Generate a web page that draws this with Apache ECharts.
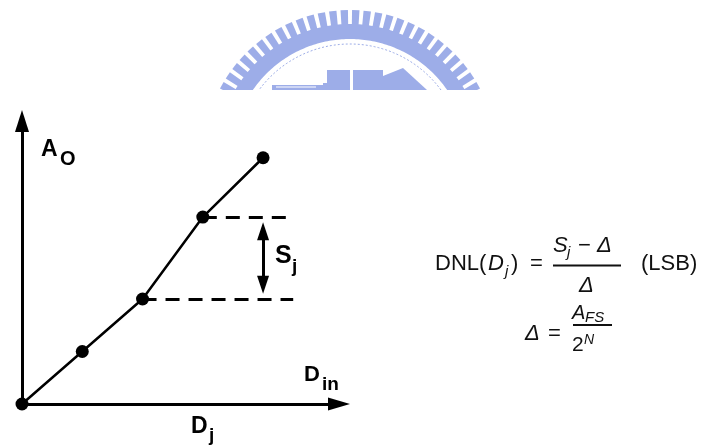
<!DOCTYPE html>
<html>
<head>
<meta charset="utf-8">
<title>DNL definition</title>
<script src="https://cdn.jsdelivr.net/npm/echarts@6.0.0/dist/echarts.min.js"></script>
<style>
  html, body { margin: 0; padding: 0; background: #ffffff; }
  #chart { width: 708px; height: 447px; }
</style>
</head>
<body>
<div id="chart"></div>
<script>
// DAC transfer characteristic: analog output A_o against input code D_in
const codes = [0, 1, 2, 3, 4];
const outputs = [0, 1.0, 2.0, 3.56, 4.69];
// the step S_j lies between these two codes
const stepLow = 2;
const stepHigh = 3;
// how far the dashed guide lines run to the right (in code units)
const guideEnds = [4.45, 4.5];

const INK = '#000000';
const MARK = '#9dade8';
const SANS = '"Liberation Sans", Arial, Helvetica, sans-serif';

const chart = echarts.init(document.getElementById('chart'), null, { renderer: 'canvas' });

// ---- badge drawn faintly behind the top of the page ----
const cx = 350, cy = 157, clipY = 90;
function clipBelow(poly) {
  // keep the part of a polygon that lies above the horizontal line y = clipY
  const out = [];
  for (let i = 0; i < poly.length; i++) {
    const a = poly[i], b = poly[(i + 1) % poly.length];
    const ina = a[1] <= clipY, inb = b[1] <= clipY;
    if (ina) out.push(a);
    if (ina !== inb) {
      const t = (clipY - a[1]) / (b[1] - a[1]);
      out.push([a[0] + t * (b[0] - a[0]), clipY]);
    }
  }
  return out;
}
function pt(r, deg) {
  const t = deg * Math.PI / 180;
  return [cx + r * Math.cos(t), cy - r * Math.sin(t)];
}
const badge = [];
// teeth around the rim
for (let i = 0; i < 80; i++) {
  const a = i * 4.5 + 2.25;
  if (a > 180) break;
  const hw = 1.45;
  const poly = clipBelow([pt(131, a - hw), pt(147, a - hw), pt(147, a + hw), pt(131, a + hw)]);
  if (poly.length > 2) badge.push({ type: 'polygon', shape: { points: poly }, style: { fill: MARK }, silent: true });
}
// solid band under the teeth
{
  const ring = [];
  for (let a = 0; a <= 180; a += 1) ring.push(pt(133, a));
  for (let a = 180; a >= 0; a -= 1) ring.push(pt(118, a));
  const poly = clipBelow(ring);
  badge.push({ type: 'polygon', shape: { points: poly }, style: { fill: MARK }, silent: true });
}
// thin dotted inner ring
{
  const r = 113;
  const a0 = Math.asin((cy - clipY) / r) * 180 / Math.PI;
  const line = [];
  for (let a = a0; a <= 180 - a0 + 0.01; a += 1) line.push(pt(r, a));
  badge.push({ type: 'polyline', shape: { points: line }, style: { stroke: MARK, lineWidth: 1, lineDash: [2, 2], fill: null }, silent: true });
}
// buildings at the foot of the badge
badge.push(
  { type: 'rect', shape: { x: 272, y: 85, width: 51, height: 5 }, style: { fill: MARK }, silent: true },
  { type: 'rect', shape: { x: 276, y: 86.5, width: 40, height: 1 }, style: { fill: '#ffffff' }, silent: true },
  { type: 'rect', shape: { x: 323, y: 83, width: 4, height: 7 }, style: { fill: MARK }, silent: true },
  { type: 'rect', shape: { x: 327, y: 70, width: 23, height: 20 }, style: { fill: MARK }, silent: true },
  { type: 'rect', shape: { x: 353, y: 70, width: 30, height: 20 }, style: { fill: MARK }, silent: true },
  { type: 'polygon', shape: { points: [[383, 90], [383, 76], [403, 68], [427, 90]] }, style: { fill: MARK }, silent: true }
);

// ---- text helpers ----
function txt(str, x, y, size, opts) {
  opts = opts || {};
  return {
    type: 'text', x: x, y: y, silent: true, z: 10,
    style: {
      text: str, fill: opts.fill || INK,
      font: (opts.italic ? 'italic ' : '') + (opts.bold ? 'bold ' : '') + size + 'px ' + SANS,
      align: opts.align || 'left', verticalAlign: 'middle'
    }
  };
}
function bar(x1, x2, y, w) {
  return { type: 'line', silent: true, z: 10, shape: { x1: x1, y1: y, x2: x2, y2: y }, style: { stroke: '#111111', lineWidth: w || 2 } };
}
const F = '#111111';
const labels = [
  // axis and step labels
  txt('A', 41, 150, 23, { bold: true }),
  txt('O', 60, 159, 20, { bold: true }),
  txt('S', 275, 256, 25, { bold: true }),
  txt('j', 292, 267, 19, { bold: true }),
  txt('D', 304, 375, 22, { bold: true }),
  txt('in', 322, 385, 19, { bold: true }),
  txt('D', 191, 427, 23, { bold: true }),
  txt('j', 209, 436, 19, { bold: true }),
  // DNL(D_j) = (S_j - Δ) / Δ  (LSB)
  txt('DNL(', 435, 264, 22, { fill: F }),
  txt('D', 488, 264, 22, { fill: F, italic: true }),
  txt('j', 505, 272, 15, { fill: F, italic: true }),
  txt(')', 511, 264, 22, { fill: F }),
  txt('=', 530, 264, 22, { fill: F }),
  bar(553, 621, 265.5),
  txt('S', 553, 246, 22, { fill: F, italic: true }),
  txt('j', 567, 253, 15, { fill: F, italic: true }),
  txt('\u2212', 578, 246, 22, { fill: F }),
  txt('\u0394', 597, 246, 22, { fill: F, italic: true }),
  txt('\u0394', 579, 286, 22, { fill: F, italic: true }),
  txt('(LSB)', 641, 264, 22, { fill: F }),
  // Δ = A_FS / 2^N
  txt('\u0394', 525, 334, 22, { fill: F, italic: true }),
  txt('=', 548, 334, 22, { fill: F }),
  bar(573, 612, 325),
  txt('A', 572, 313, 20, { fill: F, italic: true }),
  txt('FS', 585, 318, 15, { fill: F, italic: true }),
  txt('2', 572, 345, 21, { fill: F }),
  txt('N', 584, 340, 14, { fill: F, italic: true })
];

// guide lines at the two output levels bounding the step
const guides = [
  [{ coord: [codes[stepHigh], outputs[stepHigh]] }, { coord: [guideEnds[0], outputs[stepHigh]] }],
  [{ coord: [codes[stepLow], outputs[stepLow]] }, { coord: [guideEnds[1], outputs[stepLow]] }]
];
// double-headed arrow spanning the step, a little inside the guides
const inset = 0.27;
const arrowX = codes[codes.length - 1];
const stepArrow = [
  [{ coord: [arrowX, outputs[stepLow] + inset] }, { coord: [arrowX, outputs[stepHigh] - inset] }]
];

chart.setOption({
  animation: false,
  backgroundColor: '#ffffff',
  grid: { left: 22, top: 121, width: 317, bottom: 43, containLabel: false },
  xAxis: {
    type: 'value', min: 0, max: 5.26,
    axisLine: { show: true, onZero: false, symbol: ['none', 'triangle'], symbolSize: [13, 22], lineStyle: { color: INK, width: 3 } },
    axisTick: { show: false }, axisLabel: { show: false }, splitLine: { show: false }
  },
  yAxis: {
    type: 'value', min: 0, max: 5.39,
    axisLine: { show: true, onZero: false, symbol: ['none', 'triangle'], symbolSize: [14, 22], lineStyle: { color: INK, width: 3 } },
    axisTick: { show: false }, axisLabel: { show: false }, splitLine: { show: false }
  },
  series: [
    {
      type: 'line',
      data: codes.map((c, i) => [c, outputs[i]]),
      symbol: 'circle', symbolSize: 13, showAllSymbol: true,
      lineStyle: { color: INK, width: 2.5 },
      itemStyle: { color: INK },
      z: 5,
      markLine: {
        silent: true, symbol: 'none', animation: false,
        label: { show: false },
        lineStyle: { color: INK, width: 3, type: [14, 9] },
        data: guides
      }
    },
    {
      type: 'line', data: [], z: 4,
      markLine: {
        silent: true, symbol: ['triangle', 'triangle'], symbolSize: [12, 18], animation: false,
        label: { show: false },
        lineStyle: { color: INK, width: 3, type: 'solid' },
        itemStyle: { color: INK },
        data: stepArrow
      }
    }
  ],
  graphic: [
    { type: 'group', z: -1, silent: true, children: badge },
    { type: 'group', silent: true, children: labels }
  ]
});
</script>
</body>
</html>
